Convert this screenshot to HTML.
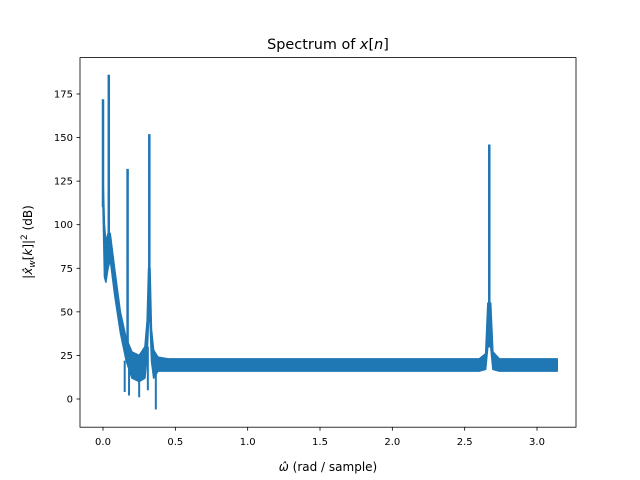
<!DOCTYPE html>
<html><head><meta charset="utf-8"><style>
body{margin:0;background:#fff;}
svg{display:block;font-family:"DejaVu Sans","Liberation Sans",sans-serif;}
</style></head><body>
<svg id="chart" width="640" height="480">
<rect width="640" height="480" fill="#fff"/>
<g id="plot"></g>
<rect x="80" y="57.6" width="496" height="369.6" fill="none" stroke="#000" stroke-width="0.8"/>
<g id="ticks"></g>
<text x="328" y="49" text-anchor="middle" font-size="14.4">Spectrum of <tspan font-style="italic">x</tspan>[<tspan font-style="italic">n</tspan>]</text>
<text x="328" y="471" text-anchor="middle" font-size="12"><tspan font-style="italic">ω̂</tspan> (rad / sample)</text>
<text transform="translate(32,242) rotate(-90)" text-anchor="middle" font-size="12">|<tspan font-style="italic">x̂</tspan><tspan font-size="9" dy="3" font-style="italic">w</tspan><tspan dy="-3">[</tspan><tspan font-style="italic">k</tspan>]|<tspan font-size="9" dy="-5">2</tspan><tspan dy="5"> (dB)</tspan></text>
</svg>
<script>
const bandOmega=[0.0,0.01,0.02,0.035,0.05,0.08,0.12,0.16,0.2,0.25,0.29,0.305,0.315,0.325,0.335,0.35,0.38,0.45,1.0,2.0,2.6,2.645,2.66,2.68,2.695,2.74,3.14];
const bandUpper=[128,100,90,95,95,75,50,35,27,25,30,45,75,75,40,28,24,23,23,23,23,26,55,55,27,23,23];
const bandLower=[110,70,67,75,80,60,38,22,12,10,12,25,45,45,22,12,16,16,16,16,16,17,30,30,17,16,16];
const spikeOmega=[0.0,0.04,0.17,0.32,2.67];
const spikeTop=[172,186,132,152,146];
const spikeBottom=[110,80,30,50,40];
const dipOmega=[0.15,0.18,0.25,0.31,0.365];
const dipValue=[4,2,1,5,-6];
const dipTop=[22,20,10,30,16];
const xTicks=[0.0,0.5,1.0,1.5,2.0,2.5,3.0];
const yTicks=[0,25,50,75,100,125,150,175];
const C='#1f77b4';
const X=v=>103+v*144.67;
const Y=v=>399-v*1.743;
const ns='http://www.w3.org/2000/svg';
const plot=document.getElementById('plot'),tk=document.getElementById('ticks');
function mk(tag,attrs,parent){const e=document.createElementNS(ns,tag);for(const k in attrs)e.setAttribute(k,attrs[k]);parent.appendChild(e);return e;}
let pts=bandOmega.map((o,i)=>X(o)+','+Y(bandUpper[i]));
for(let i=bandOmega.length-1;i>=0;i--)pts.push(X(bandOmega[i])+','+Y(bandLower[i]));
const band=mk('polygon',{points:pts.join(' '),fill:C,stroke:C,'stroke-width':1.5,'stroke-linejoin':'round'},plot);


spikeOmega.forEach((o,i)=>{
 const l=mk('line',{x1:X(o),x2:X(o),y1:Y(spikeTop[i]),y2:Y(spikeBottom[i]),stroke:C,'stroke-width':2.5},plot);
 
 
});
dipOmega.forEach((o,i)=>{
 const l=mk('line',{x1:X(o),x2:X(o),y1:Y(dipTop[i]),y2:Y(dipValue[i]),stroke:C,'stroke-width':2},plot);
 
 
});
xTicks.forEach(t=>{
 const l=mk('line',{x1:X(t),x2:X(t),y1:427.2,y2:430.7,stroke:'#000','stroke-width':0.8},tk);
 
 
 const s=mk('text',{x:X(t),y:445,'text-anchor':'middle','font-size':10},tk);
 s.textContent=t.toFixed(1);
 
 
});
yTicks.forEach(t=>{
 const l=mk('line',{x1:76.5,x2:80,y1:Y(t),y2:Y(t),stroke:'#000','stroke-width':0.8},tk);
 
 
 const s=mk('text',{x:73,y:Y(t)+3.5,'text-anchor':'end','font-size':10},tk);
 s.textContent=t;
 
 
});
</script>
</body></html>
